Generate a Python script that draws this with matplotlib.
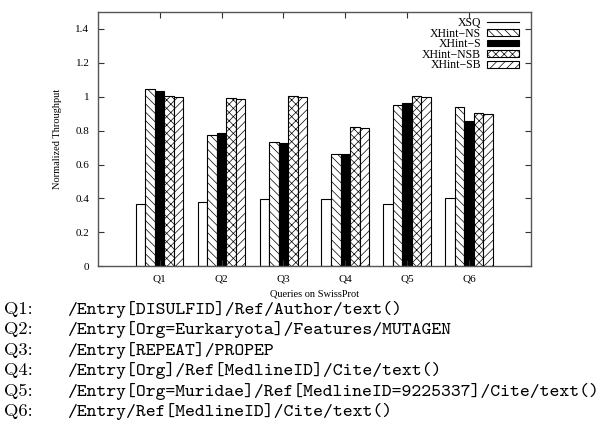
import matplotlib
matplotlib.use("Agg")
import matplotlib.pyplot as plt
from matplotlib.lines import Line2D
import numpy as np

categories = ["Q1", "Q2", "Q3", "Q4", "Q5", "Q6"]
series_names = ["XSQ", "XHint\u2212NS", "XHint\u2212S", "XHint\u2212NSB", "XHint\u2212SB"]
xsq = [0.37, 0.38, 0.395, 0.395, 0.37, 0.40]
xhint_ns = [1.043, 0.776, 0.735, 0.662, 0.949, 0.941]
xhint_s = [1.035, 0.788, 0.729, 0.662, 0.961, 0.855]
xhint_nsb = [1.006, 0.992, 1.006, 0.819, 1.006, 0.902]
xhint_sb = [1.0, 0.984, 1.0, 0.815, 1.0, 0.90]
yticks = [0, 0.2, 0.4, 0.6, 0.8, 1.0, 1.2, 1.4]
ytick_labels = ["0", "0.2", "0.4", "0.6", "0.8", "1", "1.2", "1.4"]
query_labels = ["Q1:", "Q2:", "Q3:", "Q4:", "Q5:", "Q6:"]
query_paths = [
    "/Entry[DISULFID]/Ref/Author/text()",
    "/Entry[Org=Eurkaryota]/Features/MUTAGEN",
    "/Entry[REPEAT]/PROPEP",
    "/Entry[Org]/Ref[MedlineID]/Cite/text()",
    "/Entry[Org=Muridae]/Ref[MedlineID=9225337]/Cite/text()",
    "/Entry/Ref[MedlineID]/Cite/text()",
]

plt.rcParams["hatch.linewidth"] = 0.5
W, H = 600, 423
fig = plt.figure(figsize=(6.0, 4.23), dpi=100)
ax = fig.add_axes([97.7 / W, 1 - 266.3 / H, (531 - 97.7) / W, (266.3 - 12) / H])

serif = "Liberation Serif"
series = [xsq, xhint_ns, xhint_s, xhint_nsb, xhint_sb]
styles = [
    dict(facecolor="white", hatch=None),
    dict(facecolor="white", hatch="\\\\\\\\"),
    dict(facecolor="black", hatch=None),
    dict(facecolor="white", hatch="xxxx"),
    dict(facecolor="white", hatch="////"),
]
x = np.arange(len(categories))
w = 0.154
handles = []
for j, (vals, st, name) in enumerate(zip(series, styles, series_names)):
    bars = ax.bar(x + (j - 2) * w, vals, width=w, edgecolor="black",
                  linewidth=0.8, label=name, **st)
    handles.append(bars)

ax.set_xlim(-1, 6)
ax.set_ylim(0, 1.5)
ax.set_xticks(x)
ax.set_xticklabels(categories, fontfamily=serif, fontsize=8)
ax.set_yticks(yticks)
ax.set_yticklabels(ytick_labels, fontfamily=serif, fontsize=8)
ax.tick_params(direction="in", length=4, width=0.8, top=True, right=True,
               color="#333333", pad=6)
for s in ax.spines.values():
    s.set_color("#555555")
    s.set_linewidth(1.0)

ax.set_xlabel("Queries on SwissProt", fontfamily=serif, fontsize=7.5, labelpad=4)
ax.set_ylabel("Normalized Throughput", fontfamily=serif, fontsize=7.5)
ax.yaxis.set_label_coords((62 - 97.7) / (531 - 97.7), 0.5)

leg_handles = [Line2D([], [], color="black", lw=0.8)] + handles[1:]
leg = ax.legend(leg_handles, series_names, loc="upper right",
                bbox_to_anchor=(519 / W, 1 - 17 / H), bbox_transform=fig.transFigure,
                frameon=False, markerfirst=False, prop={"family": serif, "size": 8.5},
                handlelength=2.7, handleheight=0.5, labelspacing=-0.12,
                handletextpad=0.5, borderpad=0, borderaxespad=0)

for i, (q, p) in enumerate(zip(query_labels, query_paths)):
    yb = 1 - (314 + 20.4 * i) / H
    fig.text(4 / W, yb, q, family="cmr10", fontsize=13.4, va="baseline")
    fig.text(68 / W, yb, p, family="cmtt10", fontsize=13.5, va="baseline")

fig.savefig("out.png", dpi=100)
